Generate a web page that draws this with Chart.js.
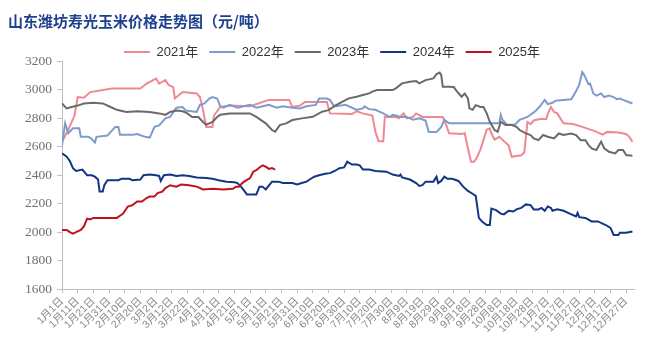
<!DOCTYPE html>
<html><head><meta charset="utf-8">
<script src="https://cdn.jsdelivr.net/npm/chart.js@4"></script>
<style>html,body{margin:0;padding:0;background:#fff}</style>
</head><body>
<canvas id="c" width="660" height="356"></canvas>
<script>
const titleText = '山东潍坊寿光玉米价格走势图（元/吨）';
const seriesNames = ['2021年', '2022年', '2023年', '2024年', '2025年'];
const xTickLabels = ['1月1日','1月11日','1月21日','1月31日','2月10日','2月20日','3月2日','3月12日','3月22日','4月1日','4月11日','4月21日','5月1日','5月11日','5月21日','5月31日','6月10日','6月20日','6月30日','7月10日','7月20日','7月30日','8月9日','8月19日','8月29日','9月8日','9月18日','9月28日','10月8日','10月18日','10月28日','11月7日','11月17日','11月27日','12月7日','12月17日','12月27日'];
const yTicks = [1600, 1800, 2000, 2200, 2400, 2600, 2800, 3000, 3200];

// day of year (0 = 1月1日) and price (元/吨)
const d2021 = [0,4,8,10,14,18,32,50,54,60,62,66,68,71,72,77,86,88,90,92,96,97,101,107,120,132,145,147,152,155,169,171,185,188,192,198,200,202,205,206,213,215,218,220,224,226,230,243,245,247,255,257,259,261,263,265,267,271,273,274,276,279,282,285,287,293,295,297,299,301,305,309,310,312,314,316,320,326,332,340,345,348,355,360,362,364];
const v2021 = [2635,2720,2820,2950,2945,2985,3010,3010,3045,3080,3045,3070,3035,3020,2940,2985,2975,2950,2860,2740,2740,2820,2880,2890,2885,2930,2930,2880,2890,2915,2915,2835,2830,2850,2835,2820,2705,2640,2640,2810,2810,2800,2835,2800,2810,2835,2810,2810,2760,2695,2690,2695,2590,2495,2495,2530,2580,2720,2730,2695,2650,2670,2640,2610,2530,2540,2560,2775,2760,2785,2795,2795,2830,2880,2845,2835,2765,2760,2740,2710,2685,2705,2700,2690,2670,2635];

const d2022 = [0,2,4,7,11,12,17,19,21,22,29,34,36,37,45,48,53,56,59,62,66,69,73,77,79,86,88,91,94,96,99,101,103,107,112,116,120,124,128,132,137,141,147,152,156,162,164,169,171,173,175,181,188,192,193,196,200,205,209,211,213,216,220,224,228,232,234,239,242,244,247,279,280,281,284,289,292,297,302,305,308,310,313,315,320,325,328,330,332,333,336,337,339,341,344,346,349,352,354,356,358,364];
const v2022 = [2610,2765,2695,2730,2730,2670,2670,2655,2630,2670,2680,2740,2740,2685,2685,2690,2670,2665,2740,2750,2800,2810,2875,2880,2855,2845,2895,2905,2940,2950,2940,2885,2875,2895,2875,2885,2895,2875,2885,2895,2875,2885,2875,2870,2885,2895,2940,2940,2930,2895,2885,2895,2860,2870,2885,2865,2860,2835,2810,2825,2820,2810,2810,2790,2800,2785,2705,2705,2740,2790,2765,2765,2825,2790,2755,2755,2790,2810,2850,2885,2930,2900,2910,2925,2930,2935,2990,3035,3125,3110,3040,3045,2975,2960,2975,2950,2960,2950,2935,2940,2930,2905];

const d2023 = [0,3,6,10,14,20,26,31,35,41,48,56,62,66,69,73,77,80,83,87,90,92,94,96,99,101,107,114,120,124,130,134,136,139,143,147,153,160,166,170,175,179,183,188,192,196,198,201,211,213,217,222,226,228,232,237,239,241,242,243,247,250,252,255,257,259,260,262,264,267,269,271,273,276,278,280,283,287,290,292,296,299,301,304,307,310,314,317,320,325,328,331,334,336,338,341,344,346,349,353,355,358,360,364];
const v2023 = [2905,2870,2880,2890,2905,2910,2905,2880,2860,2845,2850,2845,2835,2825,2845,2855,2850,2835,2810,2810,2775,2755,2765,2775,2810,2825,2835,2835,2835,2810,2765,2718,2706,2753,2765,2788,2800,2811,2847,2858,2893,2917,2941,2952,2964,2976,2988,2999,2999,3011,3046,3058,3062,3046,3069,3081,3111,3122,3104,3022,3022,3020,2990,2952,2975,2940,2870,2860,2893,2880,2880,2835,2776,2718,2706,2776,2753,2753,2741,2718,2694,2683,2659,2647,2683,2671,2659,2694,2683,2694,2683,2647,2647,2612,2589,2577,2636,2589,2565,2553,2577,2577,2542,2537];

const d2024 = [0,3,5,7,9,13,16,19,21,23,24,26,27,29,36,38,43,45,50,52,56,60,62,63,65,69,73,77,81,86,92,96,100,105,110,112,115,118,124,126,128,130,134,138,141,147,150,153,156,158,161,164,168,171,174,177,180,182,185,188,190,192,196,200,207,211,215,216,217,222,226,228,230,232,237,239,240,242,244,246,249,253,256,259,262,264,266,268,271,273,274,277,280,282,285,288,290,293,296,299,301,304,306,308,310,312,313,316,320,324,328,329,330,334,338,342,347,350,352,355,356,360,364];
const v2024 = [2555,2530,2500,2450,2430,2440,2400,2400,2390,2370,2285,2285,2330,2365,2365,2375,2375,2365,2370,2400,2405,2400,2395,2360,2400,2405,2395,2400,2395,2385,2380,2375,2365,2355,2350,2345,2310,2265,2265,2320,2320,2300,2355,2355,2345,2345,2335,2345,2355,2370,2390,2400,2410,2415,2430,2450,2455,2495,2475,2475,2470,2440,2440,2430,2425,2405,2395,2405,2385,2370,2345,2325,2330,2355,2355,2390,2345,2360,2390,2375,2375,2360,2320,2290,2270,2255,2100,2075,2050,2050,2165,2155,2130,2125,2150,2145,2160,2170,2195,2190,2160,2160,2170,2150,2180,2170,2150,2160,2150,2130,2110,2135,2105,2100,2075,2075,2050,2030,1980,1980,1995,1995,2005];

const d2025 = [0,3,5,7,9,12,14,16,18,20,35,37,39,42,45,48,51,54,56,59,61,64,66,69,73,76,81,86,90,96,103,109,111,113,115,117,120,122,124,126,128,130,132,134,136];
const v2025 = [2015,2015,2000,1990,2000,2015,2040,2095,2090,2100,2100,2115,2130,2180,2190,2215,2215,2240,2250,2250,2275,2285,2310,2330,2320,2335,2330,2320,2300,2305,2300,2305,2320,2320,2345,2360,2380,2425,2435,2455,2470,2460,2445,2450,2440];

const seriesDays = [d2021, d2022, d2023, d2024, d2025];
const seriesVals = [v2021, v2022, v2023, v2024, v2025];
const seriesColors = ['#F08791', '#7F9BCB', '#6A6A6A', '#123584', '#C0121E'];

const datasets = seriesNames.map((name, i) => ({
  label: name,
  data: seriesDays[i].map((d, k) => ({x: d, y: seriesVals[i][k]})),
  borderColor: seriesColors[i],
  backgroundColor: seriesColors[i],
  borderWidth: 2,
  pointRadius: 0,
  tension: 0,
  fill: false,
  order: seriesNames.length - 1 - i
}));

const legendShift = {
  id: 'legendShift',
  afterLayout(chart) {
    if (chart.legend) { chart.legend.left += 11; chart.legend.right += 11; }
  }
};

const axisColor = '#BFBFBF';
new Chart(document.getElementById('c'), {
  type: 'line',
  data: { datasets },
  plugins: [legendShift],
  options: {
    responsive: false,
    animation: false,
    devicePixelRatio: 1,
    layout: { padding: { left: 8, right: 26, top: 0, bottom: 0 } },
    plugins: {
      title: {
        display: true, text: titleText, align: 'start', color: '#1F3F8F',
        font: { family: '"Noto Sans CJK SC", sans-serif', size: 15, weight: 'bold' },
        padding: { top: 12, bottom: 4.5 }
      },
      legend: {
        display: true, maxHeight: 27,
        labels: {
          usePointStyle: true, pointStyle: 'line', pointStyleWidth: 26,
          color: '#333333', padding: 11,
          font: { family: '"Liberation Sans", "Noto Sans CJK SC", sans-serif', size: 13 },
          sort: (a, b) => a.datasetIndex - b.datasetIndex
        }
      },
      tooltip: { enabled: false }
    },
    scales: {
      x: {
        type: 'linear', min: 0, max: 365,
        afterBuildTicks: (s) => { s.ticks = xTickLabels.map((_, i) => ({ value: i * 10 })); },
        ticks: {
          autoSkip: false, maxRotation: 45, minRotation: 45, padding: 2,
          color: '#8A8A8A',
          font: { family: '"Liberation Sans", "Noto Sans CJK SC", sans-serif', size: 10.5 },
          callback: (v) => xTickLabels[Math.round(v / 10)] ?? ''
        },
        grid: { drawOnChartArea: false, drawTicks: true, tickLength: 4, color: axisColor },
        border: { display: true, color: axisColor },
        afterFit: (s) => { s.height = 67; }
      },
      y: {
        min: 1600, max: 3200,
        afterBuildTicks: (s) => { s.ticks = yTicks.map(v => ({ value: v })); },
        ticks: {
          padding: 5, color: '#707070',
          font: { family: '"Liberation Serif", serif', size: 13.5 },
          callback: (v) => String(v)
        },
        grid: { drawOnChartArea: false, drawTicks: true, tickLength: 5, color: axisColor },
        border: { display: true, color: axisColor },
        afterFit: (s) => { s.width = 54; }
      }
    }
  }
});
</script>
</body></html>
